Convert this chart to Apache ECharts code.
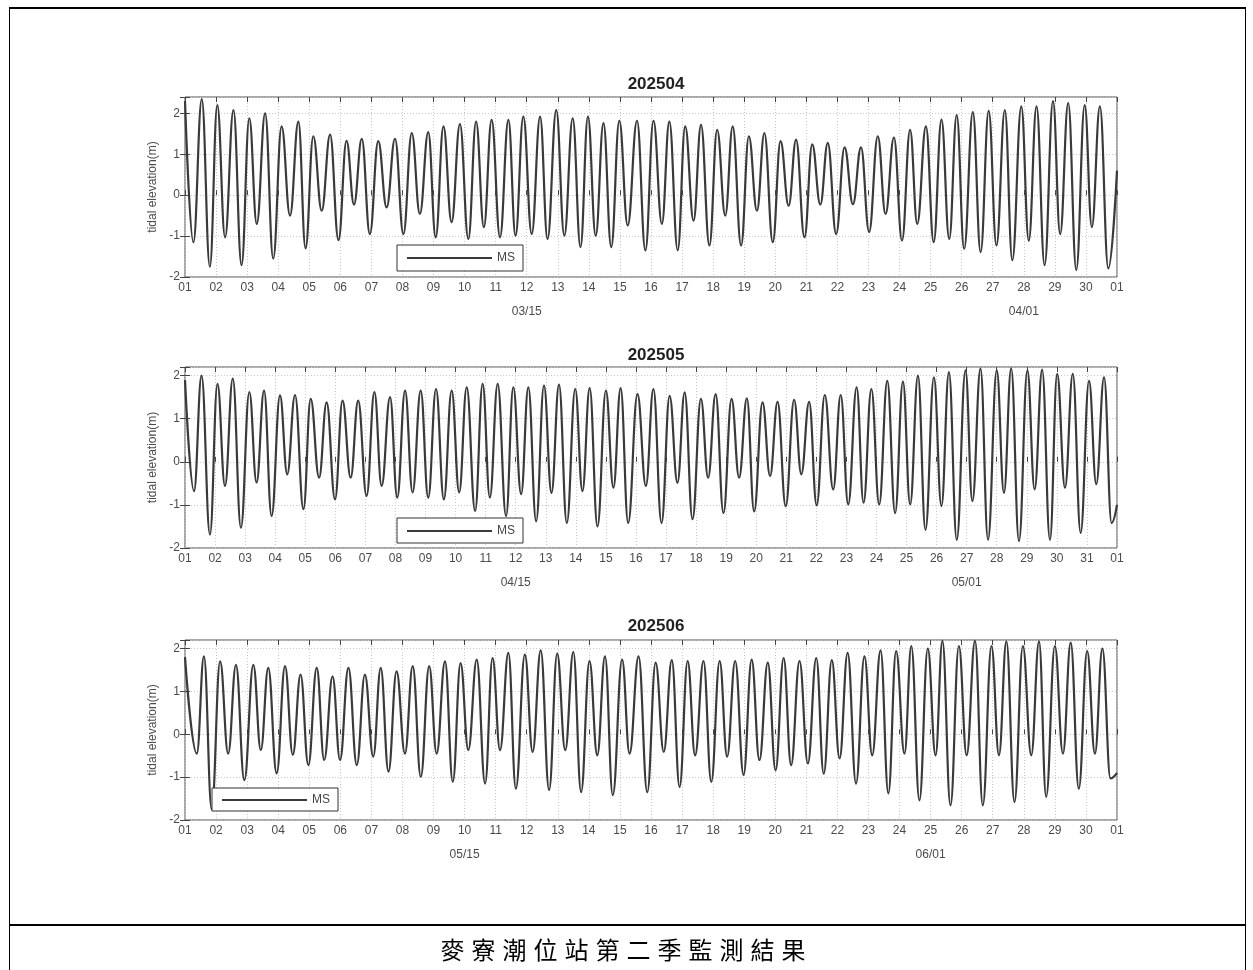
<!DOCTYPE html>
<html><head><meta charset="utf-8">
<script src="https://cdn.jsdelivr.net/npm/echarts@6/dist/echarts.min.js"></script>
<style>
html,body{margin:0;padding:0;background:#fff;}
#wrap{position:relative;width:1253px;height:970px;overflow:hidden;background:#fff;}
#chart{position:absolute;left:0;top:0;width:1253px;height:970px;}
.frame{position:absolute;background:#000;}
#caption{position:absolute;left:0;width:1253px;top:934px;text-align:center;font-family:"Noto Sans CJK TC";font-size:24px;letter-spacing:7px;color:#000;line-height:30px;}
</style></head>
<body><div id="wrap"><div id="chart"></div>
<div class="frame" style="left:9px;top:7px;width:1237px;height:2px"></div>
<div class="frame" style="left:9px;top:7px;width:1px;height:963px"></div>
<div class="frame" style="left:1245px;top:7px;width:1px;height:963px"></div>
<div class="frame" style="left:9px;top:924px;width:1237px;height:2px"></div>
<div id="caption">麥寮潮位站第二季監測結果</div>
</div>
<script>
// ---------------- data ----------------
const panelTitles = ['202504', '202505', '202506'];
const seriesName = 'MS';
const yAxisName = 'tidal elevation(m)';

// 202504: time (days from start of axis) and tidal elevation (m) of turning points
const t_202504 = [0,0.27,0.54,0.80,1.04,1.29,1.56,1.82,2.07,2.31,
 2.58,2.84,3.11,3.38,3.65,3.88,4.13,4.40,4.67,4.94,
 5.20,5.44,5.69,5.95,6.22,6.49,6.76,7.03,7.30,7.56,
 7.83,8.07,8.32,8.58,8.85,9.12,9.37,9.62,9.87,10.14,
 10.41,10.64,10.89,11.16,11.43,11.67,11.95,12.21,12.48,12.73,
 12.97,13.22,13.47,13.72,13.98,14.25,14.55,14.82,15.08,15.35,
 15.59,15.86,16.10,16.37,16.61,16.88,17.13,17.39,17.63,17.90,
 18.15,18.41,18.65,18.92,19.17,19.43,19.67,19.94,20.19,20.45,
 20.69,20.96,21.23,21.50,21.76,22.02,22.30,22.55,22.82,23.08,
 23.34,23.57,23.85,24.10,24.35,24.60,24.84,25.08,25.36,25.61,
 25.87,26.12,26.39,26.63,26.92,27.16,27.41,27.67,27.94,28.17,
 28.43,28.69,28.96,29.19,29.45,29.72,30];
const h_202504 = [2.3,-1.15,2.35,-1.75,2.2,-1.03,2.08,-1.71,1.88,-0.7,
 2.0,-1.55,1.68,-0.5,1.8,-1.3,1.44,-0.38,1.48,-1.1,
 1.33,-0.23,1.38,-0.95,1.32,-0.3,1.38,-0.95,1.52,-0.46,
 1.54,-1.03,1.68,-0.66,1.74,-1.07,1.8,-0.78,1.84,-1.03,
 1.84,-0.99,1.92,-0.95,1.92,-1.07,2.08,-0.99,1.88,-1.27,
 1.92,-0.99,1.76,-1.27,1.82,-0.74,1.82,-1.35,1.82,-0.7,
 1.8,-1.35,1.68,-0.62,1.72,-1.23,1.6,-0.5,1.68,-1.23,
 1.44,-0.38,1.52,-1.15,1.32,-0.26,1.36,-1.03,1.24,-0.23,
 1.28,-0.95,1.17,-0.22,1.17,-0.9,1.44,-0.46,1.41,-1.11,
 1.6,-0.7,1.68,-1.15,1.85,-1.07,1.96,-1.31,2.03,-1.39,
 2.06,-1.23,2.08,-1.59,2.17,-1.11,2.17,-1.71,2.3,-0.95,
 2.25,-1.83,2.2,-0.78,2.17,-1.79,0.6];

// 202505
const t_202505 = [0,0.30,0.55,0.83,1.08,1.33,1.59,1.86,2.14,2.38,
 2.63,2.88,3.16,3.40,3.66,3.94,4.18,4.46,4.71,4.99,
 5.24,5.51,5.76,6.04,6.30,6.54,6.82,7.06,7.32,7.57,
 7.84,8.09,8.35,8.61,8.87,9.12,9.37,9.65,9.90,10.14,
 10.40,10.68,10.92,11.18,11.42,11.68,11.94,12.19,12.44,12.70,
 12.98,13.22,13.46,13.72,14.00,14.25,14.49,14.74,15.05,15.33,
 15.58,15.85,16.12,16.38,16.62,16.88,17.16,17.40,17.65,17.91,
 18.18,18.43,18.69,18.93,19.21,19.46,19.71,19.98,20.26,20.50,
 20.76,21.01,21.28,21.56,21.81,22.06,22.34,22.57,22.83,23.09,
 23.36,23.62,23.88,24.12,24.38,24.63,24.91,25.16,25.41,25.67,
 25.96,26.19,26.46,26.71,27.00,27.24,27.48,27.74,28.02,28.26,
 28.51,28.77,29.01,29.27,29.53,29.79,30.07,30.31,30.57,30.82,
 31];
const h_202505 = [1.9,-0.68,2.0,-1.69,1.81,-0.56,1.93,-1.53,1.62,-0.48,
 1.65,-1.26,1.54,-0.29,1.55,-1.1,1.46,-0.37,1.38,-0.87,
 1.42,-0.37,1.42,-0.79,1.62,-0.56,1.5,-0.83,1.65,-0.71,
 1.65,-0.83,1.69,-0.87,1.65,-0.71,1.73,-1.14,1.81,-0.83,
 1.81,-1.26,1.73,-0.75,1.73,-1.38,1.77,-0.72,1.79,-1.42,
 1.69,-0.68,1.71,-1.5,1.65,-0.6,1.71,-1.42,1.57,-0.56,
 1.69,-1.42,1.53,-0.49,1.61,-1.33,1.46,-0.37,1.57,-1.19,
 1.46,-0.37,1.47,-1.15,1.38,-0.33,1.39,-1.03,1.44,-0.29,
 1.39,-1.01,1.55,-0.64,1.55,-0.99,1.73,-0.95,1.69,-0.99,
 1.88,-1.19,1.86,-0.99,2.0,-1.58,1.96,-1.03,2.08,-1.81,
 2.12,-0.91,2.16,-1.81,2.12,-0.72,2.17,-1.84,2.12,-0.64,
 2.14,-1.81,2.04,-0.6,2.04,-1.65,1.88,-0.52,1.96,-1.42,
 -1.0];

// 202506
const t_202506 = [0,0.38,0.61,0.86,1.13,1.39,1.64,1.91,2.20,2.44,
 2.68,2.95,3.22,3.47,3.72,3.97,4.24,4.48,4.75,4.99,
 5.26,5.53,5.79,6.06,6.30,6.55,6.81,7.08,7.33,7.59,
 7.86,8.10,8.37,8.62,8.87,9.12,9.39,9.66,9.90,10.14,
 10.41,10.65,10.94,11.19,11.45,11.72,11.98,12.24,12.50,12.75,
 13.02,13.27,13.52,13.77,14.07,14.31,14.60,14.88,15.15,15.41,
 15.67,15.92,16.18,16.42,16.69,16.94,17.21,17.45,17.71,17.98,
 18.24,18.49,18.76,19.01,19.27,19.51,19.78,20.05,20.32,20.56,
 20.82,21.07,21.33,21.60,21.87,22.12,22.39,22.64,22.89,23.16,
 23.38,23.64,23.91,24.16,24.38,24.64,24.91,25.16,25.43,25.68,
 25.96,26.20,26.44,26.70,26.97,27.24,27.49,27.72,28.00,28.26,
 28.51,28.77,29.04,29.29,29.53,29.79,30];
const h_202506 = [1.8,-0.45,1.82,-1.75,1.7,-0.45,1.62,-1.07,1.62,-0.37,
 1.55,-0.91,1.59,-0.48,1.39,-0.72,1.55,-0.6,1.35,-0.6,
 1.55,-0.72,1.39,-0.52,1.55,-0.87,1.47,-0.45,1.59,-0.99,
 1.59,-0.45,1.7,-1.11,1.66,-0.37,1.74,-1.15,1.78,-0.37,
 1.9,-1.27,1.86,-0.41,1.96,-1.3,1.88,-0.37,1.92,-1.35,
 1.71,-0.49,1.82,-1.42,1.74,-0.45,1.82,-1.35,1.67,-0.41,
 1.73,-1.23,1.71,-0.49,1.71,-1.11,1.71,-0.52,1.71,-0.95,
 1.74,-0.6,1.67,-0.84,1.78,-0.72,1.71,-0.68,1.78,-0.92,
 1.73,-0.56,1.9,-1.15,1.82,-0.49,1.96,-1.38,1.94,-0.45,
 2.06,-1.54,2.0,-0.49,2.18,-1.66,2.06,-0.49,2.18,-1.66,
 2.06,-0.49,2.17,-1.58,2.06,-0.49,2.17,-1.46,2.06,-0.45,
 2.14,-1.27,1.94,-0.45,2.0,-1.03,-0.9];

// axis ranges / ticks
const daysPerPanel = [30, 31, 30];
const yMinPerPanel = [-2, -2, -2];
const yMaxPerPanel = [2.4, 2.2, 2.2];
const dateTickPos = [[11, 27], [11, 26], [9, 24]];
const dateTickLab = [['03/15', '04/01'], ['04/15', '05/01'], ['05/15', '06/01']];

const times = [t_202504, t_202505, t_202506];
const heights = [h_202504, h_202505, h_202506];

// ---------------- layout / style ----------------
const layout = [
  {top: 97, height: 180, titleTop: 71, legend: {left: 397, top: 245, padding: [7, 8, 7, 10]}},
  {top: 367, height: 181, titleTop: 342, legend: {left: 397, top: 518, padding: [7, 8, 6, 10]}},
  {top: 640, height: 180, titleTop: 613, legend: {left: 212, top: 788, padding: [6, 8, 5, 10]}}
];
const FONT = '"Liberation Sans", Arial, sans-serif';
const LABEL_COLOR = '#4a4a4a';
const gridLine = {show: true, lineStyle: {color: '#c8c8c8', type: [1, 2], width: 1}};
const tickStyle = {show: true, inside: true, length: 5, lineStyle: {color: '#444', width: 1}};

function isInt(v) { return Math.abs(v - Math.round(v)) < 1e-6; }

const option = {
  animation: false,
  backgroundColor: '#fff',
  title: [], grid: [], xAxis: [], yAxis: [], series: [], legend: []
};

for (let i = 0; i < 3; i++) {
  const L = layout[i];
  const days = daysPerPanel[i];
  option.grid.push({
    left: 185, width: 932, top: L.top, height: L.height,
    show: true, borderColor: '#505050', borderWidth: 1, backgroundColor: 'transparent',
    containLabel: false, outerBoundsMode: 'none'
  });
  option.title.push({
    text: panelTitles[i], left: 651, textAlign: 'center', top: L.titleTop,
    textStyle: {fontSize: 17, fontWeight: 'bold', color: '#222', fontFamily: FONT}
  });
  // bottom axis with day labels
  option.xAxis.push({
    gridIndex: i, type: 'value', min: 0, max: days, interval: 1, position: 'bottom',
    axisLine: {show: false}, axisTick: tickStyle, splitLine: gridLine,
    axisLabel: {
      color: LABEL_COLOR, fontSize: 12, fontFamily: FONT, margin: 5,
      formatter: v => { if (!isInt(v)) return ''; const r = Math.round(v); return r === days ? '01' : String(r + 1).padStart(2, '0'); }
    }
  });
  // secondary date labels
  const pos = dateTickPos[i], lab = dateTickLab[i];
  option.xAxis.push({
    gridIndex: i, type: 'value', min: 0, max: days, interval: 1, position: 'bottom', offset: 24,
    axisLine: {show: false}, axisTick: {show: false}, splitLine: {show: false},
    axisLabel: {
      color: LABEL_COLOR, fontSize: 12, fontFamily: FONT, margin: 5,
      formatter: v => { if (!isInt(v)) return ''; const k = pos.indexOf(Math.round(v)); return k >= 0 ? lab[k] : ''; }
    }
  });
  // top ticks
  option.xAxis.push({
    gridIndex: i, type: 'value', min: 0, max: days, interval: 1, position: 'top',
    axisLine: {show: false}, axisTick: tickStyle, splitLine: {show: false}, axisLabel: {show: false}
  });
  option.yAxis.push({
    gridIndex: i, type: 'value', min: yMinPerPanel[i], max: yMaxPerPanel[i], interval: 1, position: 'left',
    axisLine: {show: false}, axisTick: tickStyle, splitLine: gridLine,
    name: yAxisName, nameLocation: 'middle', nameGap: 22, nameRotate: 90,
    nameTextStyle: {color: LABEL_COLOR, fontSize: 12, fontFamily: FONT},
    axisLabel: {color: LABEL_COLOR, fontSize: 12, fontFamily: FONT, margin: 5,
      formatter: v => isInt(v) ? String(Math.round(v)) : ''}
  });
  option.yAxis.push({
    gridIndex: i, type: 'value', min: yMinPerPanel[i], max: yMaxPerPanel[i], interval: 1, position: 'right',
    axisLine: {show: false}, axisTick: tickStyle, splitLine: {show: false}, axisLabel: {show: false}
  });
  option.series.push({
    name: seriesName, type: 'line', xAxisIndex: 3 * i, yAxisIndex: 2 * i,
    data: times[i].map((t, k) => [t, heights[i][k]]),
    smooth: 0.42, smoothMonotone: 'x', showSymbol: false, symbol: 'none',
    lineStyle: {color: '#3a3a3a', width: 2.2}, itemStyle: {color: '#3a3a3a'}, clip: true
  });
  option.legend.push({
    left: L.legend.left, top: L.legend.top, data: [seriesName], selectedMode: false,
    icon: 'rect', itemWidth: 85, itemHeight: 2, padding: L.legend.padding,
    borderColor: '#333', borderWidth: 1, backgroundColor: '#fff',
    textStyle: {color: '#444', fontSize: 12, fontFamily: FONT}
  });
}

const chart = echarts.init(document.getElementById('chart'), null, {renderer: 'canvas'});
chart.setOption(option);
</script>
</body></html>
